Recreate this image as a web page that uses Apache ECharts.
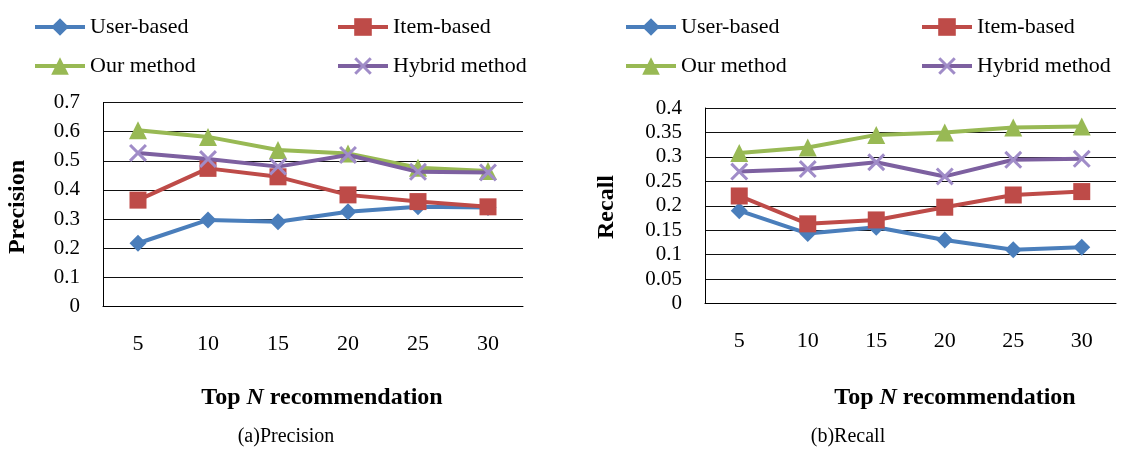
<!DOCTYPE html>
<html>
<head>
<meta charset="utf-8">
<script src="https://cdn.jsdelivr.net/npm/echarts@6/dist/echarts.min.js"></script>
<style>
html,body{margin:0;padding:0;background:#fff;}
#c{width:1121px;height:450px;}
</style>
</head>
<body>
<div id="c"></div>
<script>
var categories = ['5', '10', '15', '20', '25', '30'];
var seriesNames = ['User-based', 'Item-based', 'Our method', 'Hybrid method'];
var precisionUser = [0.217, 0.297, 0.291, 0.325, 0.342, 0.34];
var precisionItem = [0.365, 0.474, 0.445, 0.383, 0.36, 0.342];
var precisionOur = [0.605, 0.582, 0.537, 0.525, 0.476, 0.465];
var precisionHybrid = [0.527, 0.506, 0.48, 0.52, 0.462, 0.46];
var recallUser = [0.19, 0.143, 0.156, 0.13, 0.11, 0.115];
var recallItem = [0.22, 0.163, 0.171, 0.197, 0.222, 0.229];
var recallOur = [0.308, 0.319, 0.345, 0.35, 0.36, 0.362];
var recallHybrid = [0.27, 0.275, 0.289, 0.26, 0.294, 0.296];

var FONT = "'Liberation Serif', 'Times New Roman', serif";
var colors = ['#4A7EBB', '#BE4B48', '#98B954', '#7D60A0'];
var xSym = 'path://M0,1.2L1.2,0L10,8.8L8.8,10ZM8.8,0L10,1.2L1.2,10L0,8.8Z';
var symbols = ['diamond', 'rect', 'triangle', xSym];
var symSizes = [17, 17, 18, 18];
var symColors = [colors[0], colors[1], colors[2], '#A08CC8'];

function mkSeries(name, idx, data, g) {
  return {
    name: name, type: 'line', xAxisIndex: g, yAxisIndex: g, data: data,
    symbol: symbols[idx], symbolSize: symSizes[idx], showSymbol: true,
    lineStyle: {color: colors[idx], width: 4},
    itemStyle: {color: symColors[idx], borderWidth: 0},
    z: 2 + idx, animation: false
  };
}

function yAxisCfg(g, max, interval) {
  return {
    type: 'value', gridIndex: g, min: 0, max: max, interval: interval,
    axisLine: {show: true, lineStyle: {color: '#000', width: 1}},
    axisTick: {show: false},
    splitLine: {show: true, lineStyle: {color: '#111', width: 1}},
    axisLabel: {color: '#000', fontFamily: FONT, fontSize: 21, margin: 23}
  };
}
function xAxisCfg(g) {
  return {
    type: 'category', gridIndex: g, data: categories, boundaryGap: true,
    axisLine: {show: true, lineStyle: {color: '#000', width: 1}},
    axisTick: {show: false},
    axisLabel: {color: '#000', fontFamily: FONT, fontSize: 22, margin: 27}
  };
}
function legendCfg(left, names) {
  return {
    orient: 'vertical', left: left, top: 11, itemWidth: 50, itemHeight: 22,
    itemGap: 17, data: names,
    lineStyle: {width: 4},
    textStyle: {color: '#000', fontFamily: FONT, fontSize: 22, lineHeight: 22}
  };
}

var chart = echarts.init(document.getElementById('c'));
chart.setOption({
  backgroundColor: '#fff',
  animation: false,
  color: colors,
  legend: [
    legendCfg(28, [seriesNames[0], seriesNames[2]]),
    legendCfg(331, [seriesNames[1], seriesNames[3]]),
    legendCfg(619, [seriesNames[0], seriesNames[2]]),
    legendCfg(915, [seriesNames[1], seriesNames[3]])
  ],
  grid: [
    {left: 103, top: 102.5, width: 420, height: 204},
    {left: 705, top: 108, width: 411, height: 195.5}
  ],
  xAxis: [xAxisCfg(0), xAxisCfg(1)],
  yAxis: [yAxisCfg(0, 0.7, 0.1), yAxisCfg(1, 0.4, 0.05)],
  series: [
    mkSeries(seriesNames[0], 0, precisionUser, 0),
    mkSeries(seriesNames[1], 1, precisionItem, 0),
    mkSeries(seriesNames[2], 2, precisionOur, 0),
    mkSeries(seriesNames[3], 3, precisionHybrid, 0),
    mkSeries(seriesNames[0], 0, recallUser, 1),
    mkSeries(seriesNames[1], 1, recallItem, 1),
    mkSeries(seriesNames[2], 2, recallOur, 1),
    mkSeries(seriesNames[3], 3, recallHybrid, 1)
  ],
  graphic: [
    {type: 'text', x: 18, y: 207, rotation: Math.PI / 2,
     style: {text: 'Precision', font: 'bold 24px ' + FONT, fill: '#000', align: 'center', verticalAlign: 'middle'}},
    {type: 'text', x: 607, y: 207, rotation: Math.PI / 2,
     style: {text: 'Recall', font: 'bold 24px ' + FONT, fill: '#000', align: 'center', verticalAlign: 'middle'}},
    {type: 'text', x: 322, y: 398,
     style: {text: '{b|Top }{i|N}{b| recommendation}', align: 'center', verticalAlign: 'middle', fill: '#000',
       rich: {b: {fontFamily: FONT, fontWeight: 'bold', fontSize: 24, fill: '#000'},
              i: {fontFamily: FONT, fontWeight: 'bold', fontStyle: 'italic', fontSize: 24, fill: '#000'}}}},
    {type: 'text', x: 955, y: 398,
     style: {text: '{b|Top }{i|N}{b| recommendation}', align: 'center', verticalAlign: 'middle', fill: '#000',
       rich: {b: {fontFamily: FONT, fontWeight: 'bold', fontSize: 24, fill: '#000'},
              i: {fontFamily: FONT, fontWeight: 'bold', fontStyle: 'italic', fontSize: 24, fill: '#000'}}}},
    {type: 'text', x: 286, y: 437,
     style: {text: '(a)Precision', font: '20px ' + FONT, fill: '#000', align: 'center', verticalAlign: 'middle'}},
    {type: 'text', x: 848, y: 437,
     style: {text: '(b)Recall', font: '20px ' + FONT, fill: '#000', align: 'center', verticalAlign: 'middle'}}
  ]
});
</script>
</body>
</html>
